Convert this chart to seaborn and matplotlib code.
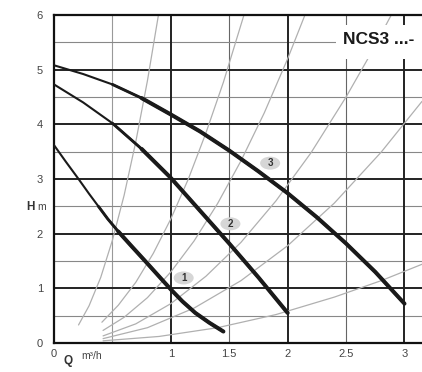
import numpy as np
import pandas as pd
import matplotlib
matplotlib.use("Agg")
import matplotlib.pyplot as plt
from matplotlib.patches import Ellipse, Rectangle
import seaborn as sns

# ---- data ----
# pump curves (Q m3/h, H m)
q3 = [0.0, 0.25, 0.5, 0.75, 1.0, 1.25, 1.5, 1.75, 2.0, 2.25, 2.5, 2.75, 3.0]
h3 = [5.08, 4.92, 4.73, 4.48, 4.18, 3.87, 3.52, 3.14, 2.74, 2.3, 1.82, 1.3, 0.72]
q2 = [0.0, 0.25, 0.5, 0.75, 1.0, 1.25, 1.5, 1.75, 2.0]
h2 = [4.73, 4.4, 4.02, 3.55, 3.02, 2.42, 1.82, 1.2, 0.55]
q1 = [0.0, 0.1, 0.21, 0.3, 0.38, 0.46, 0.55, 0.66, 0.78, 0.89, 1.0, 1.1, 1.21, 1.33, 1.45]
h1 = [3.62, 3.32, 3.0, 2.73, 2.5, 2.27, 2.04, 1.78, 1.5, 1.24, 0.98, 0.76, 0.55, 0.37, 0.21]
mid_from = {"1": 0.38, "2": 0.5, "3": 0.5}
thick_from = {"1": 0.55, "2": 0.75, "3": 0.75}

# system curves (grey)
sys_q = [
    [0.21, 0.3, 0.4, 0.5, 0.6, 0.7, 0.8, 0.894],
    [0.41, 0.55, 0.7, 0.85, 1.0, 1.15, 1.3, 1.45, 1.626],
    [0.42, 0.6, 0.8, 1.0, 1.2, 1.4, 1.6, 1.8, 2.0, 2.148],
    [0.42, 0.7, 1.0, 1.3, 1.6, 1.9, 2.2, 2.5, 2.7, 2.887],
    [0.42, 0.8, 1.2, 1.6, 2.0, 2.4, 2.8, 3.15],
    [0.42, 0.9, 1.4, 1.9, 2.4, 2.8, 3.15],
]
sys_h = [
    [0.33, 0.68, 1.2, 1.88, 2.7, 3.68, 4.8, 6.0],
    [0.38, 0.69, 1.11, 1.64, 2.27, 3.0, 3.84, 4.77, 6.0],
    [0.23, 0.47, 0.83, 1.3, 1.87, 2.55, 3.33, 4.21, 5.2, 6.0],
    [0.13, 0.35, 0.72, 1.22, 1.84, 2.6, 3.48, 4.5, 5.25, 6.0],
    [0.08, 0.28, 0.64, 1.14, 1.78, 2.56, 3.49, 4.42],
    [0.04, 0.12, 0.28, 0.52, 0.84, 1.14, 1.44],
]

x_ticks = [0, 1, 1.5, 2, 2.5, 3]
x_tick_labels = ["0", "1", "1.5", "2", "2.5", "3"]
y_ticks = [0, 1, 2, 3, 4, 5, 6]
y_tick_labels = ["0", "1", "2", "3", "4", "5", "6"]
curve_labels = ["1", "2", "3"]
label_pos_q = [1.11, 1.51, 1.85]
label_pos_h = [1.19, 2.18, 3.29]
title_text = "NCS3 ...-"

# ---- figure ----
sns.set_style("white")
plt.rcParams["font.family"] = ["Liberation Sans", "DejaVu Sans"]

fig = plt.figure(figsize=(4.22, 3.72), dpi=100)
ax = fig.add_axes([54 / 422, 1 - 343 / 372, 1 - 54 / 422, (343 - 15) / 372])
ax.set_xlim(0, 3.15)
ax.set_ylim(0, 6)

# grid
for v in [0.5, 1.5, 2.5]:
    ax.axvline(v, color="#999999" if v == 0.5 else "#666666", lw=0.8, zorder=1)
for v in [1, 2, 3]:
    ax.axvline(v, color="#222222", lw=1.4, zorder=1.2)
for v in [0.5, 1.5, 2.5, 3.5, 4.5, 5.5]:
    ax.axhline(v, color="#888888", lw=0.8, zorder=1)
for v in [1, 2, 3, 4, 5]:
    ax.axhline(v, color="#222222", lw=1.4, zorder=1.2)

# system curves
rows = []
for i, (qq, hh) in enumerate(zip(sys_q, sys_h)):
    for a, b in zip(qq, hh):
        rows.append({"Q": a, "H": b, "s": f"s{i}"})
sys_df = pd.DataFrame(rows)
sns.lineplot(data=sys_df, x="Q", y="H", units="s", estimator=None,
             color="#b0b0b0", lw=0.9, ax=ax, zorder=2, legend=False)

# pump curves
pump_df = pd.concat([
    pd.DataFrame({"Q": q1, "H": h1, "c": "1"}),
    pd.DataFrame({"Q": q2, "H": h2, "c": "2"}),
    pd.DataFrame({"Q": q3, "H": h3, "c": "3"}),
], ignore_index=True)
sns.lineplot(data=pump_df, x="Q", y="H", units="c", estimator=None,
             color="#1a1a1a", lw=1.5, ax=ax, zorder=3, legend=False)
mid_df = pump_df[pump_df.apply(lambda r: r["Q"] >= mid_from[r["c"]], axis=1)]
sns.lineplot(data=mid_df, x="Q", y="H", units="c", estimator=None,
             color="#1a1a1a", lw=2.1, ax=ax, zorder=3, legend=False,
             solid_capstyle="round")
thick_df = pump_df[pump_df.apply(lambda r: r["Q"] >= thick_from[r["c"]], axis=1)]
sns.lineplot(data=thick_df, x="Q", y="H", units="c", estimator=None,
             color="#1a1a1a", lw=2.9, ax=ax, zorder=3, legend=False,
             solid_capstyle="round")

# curve labels
for lab, qx, hy in zip(curve_labels, label_pos_q, label_pos_h):
    ax.add_patch(Ellipse((qx, hy), 20 / 116.7, 13 / 54.7, fc="#d6d6d6",
                         ec="none", zorder=4))
    ax.text(qx, hy, lab, ha="center", va="center", fontsize=7,
            fontweight="bold", color="#333333", zorder=5)

# title box
ax.add_patch(Rectangle((2.41, 5.2), 0.8, 0.62, fc="white", ec="none", zorder=4))
ax.text((343 - 54) / 116.7, 5.56, title_text, ha="left", va="center",
        fontsize=12.5, fontweight="bold", color="#1a1a1a", zorder=5,
        clip_on=True)

# spines / ticks
for s in ["left", "bottom", "top"]:
    ax.spines[s].set_color("#111111")
    ax.spines[s].set_linewidth(1.6)
ax.spines["right"].set_visible(False)
ax.set_xticks(x_ticks)
ax.set_xticklabels(x_tick_labels)
ax.set_yticks(y_ticks)
ax.set_yticklabels(y_tick_labels)
ax.tick_params(axis="both", length=0, labelsize=8, labelcolor="#444444")
ax.tick_params(axis="y", pad=8)
ax.tick_params(axis="x", pad=4)
ax.set_xlabel("")
ax.set_ylabel("")

# axis titles
fig.text(68 / 422, 1 - 361 / 372, "Q", ha="center", va="center",
         fontsize=8.5, fontweight="bold", color="#333333")
fig.text(81 / 422, 1 - 356 / 372, "m³/h", ha="left", va="center",
         fontsize=7.5, color="#444444")
fig.text(30 / 422, 1 - 207 / 372, "H", ha="center", va="center",
         fontsize=8.5, fontweight="bold", color="#333333")
fig.text(37 / 422, 1 - 207 / 372, "m", ha="left", va="center",
         fontsize=7.5, color="#444444")

fig.savefig("out.png", dpi=100)
